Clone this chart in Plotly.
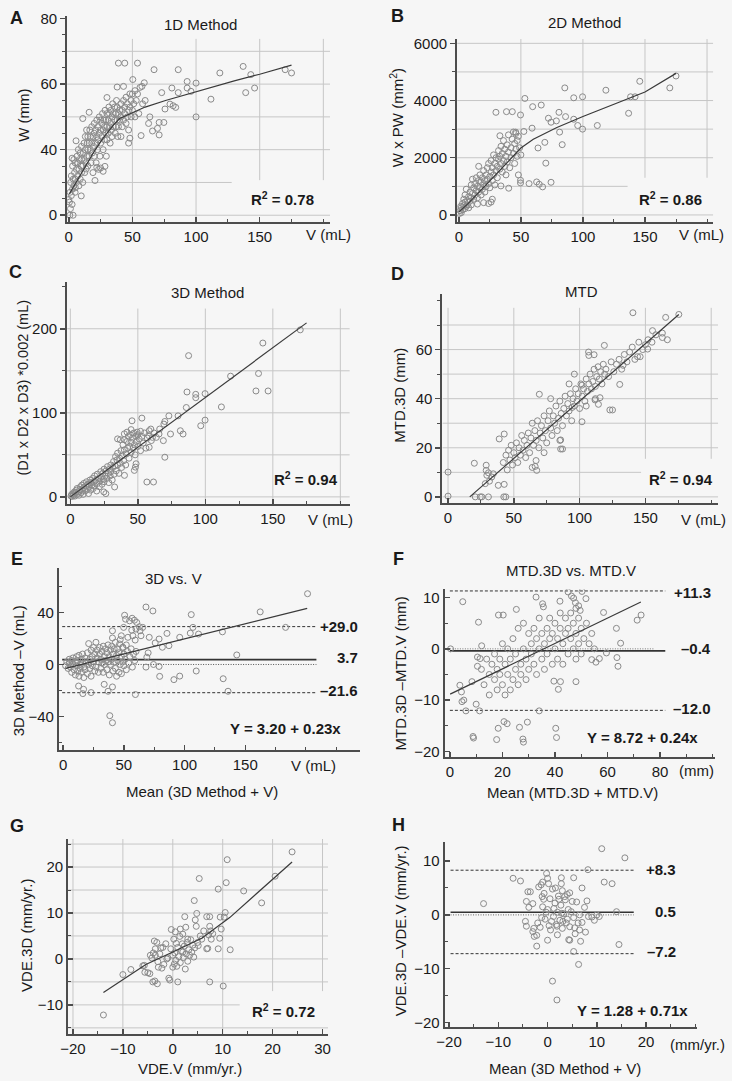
import plotly.graph_objects as go

FW, FH = 732, 1081
FONT = "Liberation Sans, Arial, Helvetica, sans-serif"
AX = "#4d4d4d"
GRID = "#c6c6c6"
MK = "#8a8a8a"
FIT = "#3a3a3a"
TXT = "#1a1a1a"

# ---------------- data ----------------
# Panel A: V (mL) vs W (mm); the W axis is drawn from 20 (labelled "0")
a_points = [
    (39, 66.4), (44, 66.4), (54, 66.4), (67, 64.4), (86, 64.4), (137, 65.4), (118.7, 63.4), (143, 62.9),
    (170, 64.4), (175, 63.4), (93, 60.8), (100, 60.3), (93, 58.8), (96, 57.8), (81, 58.8), (73, 57.4),
    (86, 57.4), (139, 57.4), (146, 58.8), (111.7, 55.4), (79.5, 53.9), (82, 53.4), (84, 52.9), (75.6, 52.4),
    (100, 50), (71, 48.3), (74.7, 48.3), (69.7, 46.5), (71, 44.5), (65.8, 45.7), (62.7, 48), (63.7, 50),
    (56.8, 44.3), (59.3, 60.4), (57.5, 59.3), (50.3, 61.4), (38, 59.1), (43, 59.3), (30, 55.9), (16, 51.4),
    (11, 49.5), (47, 42), (48, 43.5), (41, 44), (20.6, 30.6), (13.7, 34.1), (9.8, 25.9), (5.7, 42.7),
    (2.6, 37.4), (0.8, 20), (3.4, 20), (1.3, 22), (2.6, 23.3), (0, 24.8), (5.2, 28.4), (22, 34.6),
    (25, 34.4), (27, 33.4), (28.4, 34.9),
    (0.5, 24), (1, 27), (1.5, 30), (2, 26), (2, 32), (3, 28), (3, 35), (3.5, 31), (4, 29), (4, 37),
    (4.5, 33), (5, 27), (5, 31), (5, 36), (6, 30), (6, 34), (6.5, 38), (7, 32), (7, 36), (7.5, 40),
    (8, 29), (8, 34), (8.5, 37), (9, 31), (9, 39), (9.5, 35), (10, 33), (10, 41), (10, 37), (11, 30),
    (11, 35), (11.5, 39), (12, 42), (12, 37), (12.5, 33), (13, 44), (13, 40), (13.5, 36), (14, 38),
    (14, 46), (14.5, 42), (15, 35), (15, 40), (15, 44), (16, 38), (16, 42), (16.5, 46), (17, 40),
    (17, 44), (17.5, 36), (18, 42), (18, 47), (18.5, 39), (19, 44), (19, 33), (19.5, 41), (20, 45),
    (20, 38), (20, 48), (21, 42), (21, 46), (21.5, 36), (22, 44), (22, 49), (22.5, 40), (23, 47),
    (23, 43), (23.5, 34), (24, 45), (24, 50), (24.5, 38), (25, 46), (25, 42), (25, 49), (26, 44),
    (26, 48), (26.5, 51), (27, 40), (27, 46), (27.5, 49), (28, 43), (28, 47), (28.5, 52), (29, 45),
    (29, 49), (29.5, 38), (30, 47), (30, 51), (30, 43), (31, 49), (31, 45), (31.5, 53), (32, 47),
    (32, 51), (32.5, 42), (33, 48), (33, 52), (33.5, 46), (34, 50), (34, 44), (34.5, 54), (35, 47),
    (35, 51), (36, 49), (36, 53), (36.5, 45), (37, 51), (37, 47), (37.5, 55), (38, 49), (38, 53),
    (38.5, 44), (39, 51), (39, 47), (40, 52), (40, 49), (41, 54), (41, 50), (42, 47), (42, 52),
    (43, 55), (43, 49), (44, 51), (44, 53), (45, 48), (45, 56), (46, 50), (46, 54), (47, 52), (47, 46),
    (48, 57), (48, 53), (49, 50), (49, 55), (50, 52), (50, 57), (51, 54), (52, 58), (52, 50), (53, 55),
    (54, 57), (55, 51), (56, 59), (58, 54), (60, 55),
]
a_fit_v = [0.5, 10, 20, 27, 35, 40, 50, 60, 76, 100, 130, 150, 175]
a_fit_w = [26.5, 33, 39.5, 43.5, 47.5, 49.5, 51.3, 53, 55, 57.7, 61, 63, 65.8]

# Panel B: V (mL) vs W x PW (mm^2)
b_points = [
    (175, 4858), (170, 4442), (145.8, 4673), (138.4, 4131), (142, 4131), (136.8, 3554), (118.5, 4361),
    (111.6, 3127), (99.7, 4131), (92.6, 4096), (85.4, 4442), (86, 3438), (92.6, 3346), (95.8, 3127),
    (99.7, 3000), (80.7, 3588), (78.6, 3288), (81.2, 2896), (83.3, 2458), (72.2, 3381), (74.3, 3242),
    (66.4, 3842), (59.5, 3785), (53.2, 4073), (59, 3034), (69.3, 2538), (63.8, 2342), (70.1, 1811),
    (74.3, 1142), (67.5, 981), (64.8, 1073), (62.7, 1154), (56.6, 1096), (49.7, 1212), (49.7, 1119),
    (29.9, 3588), (38.4, 3611), (43.1, 3611), (49.7, 3496), (52.4, 2919), (45.8, 2896), (33.1, 2769),
    (40.2, 935), (33.9, 1015),
    (0.5, 50), (1, 150), (1.5, 300), (2, 80), (2, 250), (3, 400), (3, 180), (4, 320), (4, 550), (5, 220),
    (5, 450), (5, 700), (6, 300), (6, 900), (7, 500), (7, 350), (8, 650), (8, 250), (9, 800), (9, 480),
    (10, 600), (10, 1050), (10, 350), (11, 750), (11, 1250), (12, 550), (12, 950), (13, 1100), (13, 700),
    (14, 850), (14, 1300), (15, 600), (15, 1000), (16, 1200), (16, 800), (16, 1700), (17, 950),
    (17, 1400), (18, 700), (18, 1150), (19, 1300), (19, 900), (20, 1050), (20, 1550), (21, 1200),
    (21, 800), (22, 1400), (22, 1000), (23, 1650), (23, 1250), (24, 1100), (24, 1800), (25, 1350),
    (25, 950), (26, 1500), (26, 1900), (27, 1200), (27, 1650), (28, 2100), (28, 1400), (29, 1800),
    (29, 1050), (30, 1550), (30, 2000), (31, 1700), (31, 1300), (32, 1950), (32, 2250), (33, 1600),
    (33, 2050), (34, 1800), (34, 2400), (35, 1500), (35, 2150), (36, 1900), (36, 2600), (37, 1700),
    (37, 2300), (38, 2050), (38, 1400), (39, 2450), (39, 1850), (40, 2200), (40, 2800), (41, 1650),
    (42, 2350), (42, 2000), (43, 2650), (44, 2150), (44, 2900), (45, 1800), (45, 2500), (46, 2300),
    (46, 2850), (47, 2050), (47, 2600), (48, 1400), (48, 2750), (49, 2350), (50, 2100),
    (15, 380), (20, 430), (24, 400), (26, 450), (27, 550),
]
b_fit_v = [0, 7, 25, 40, 50, 60, 79, 100, 130, 150, 175]
b_fit_y = [100, 380, 1190, 1900, 2340, 2650, 3060, 3440, 3950, 4300, 4950]

# Panel C: V (mL) vs (D1 x D2 x D3)*0.002 (mL)
c_points = [
    (170.3, 198.7), (142.6, 183), (139.4, 146.8), (137.5, 126), (146.5, 126), (118.7, 143.6), (111.9, 107),
    (99.8, 122.8), (99.8, 91.3), (96.6, 84.6), (92.9, 122), (92.9, 118), (87.6, 168), (86.4, 124.8),
    (85.9, 106.3), (81.5, 78.7), (83.5, 74.8), (79.8, 96.4), (73, 96.4), (70, 89.7), (69.3, 86.6),
    (74.2, 74.8), (68.9, 66.9), (70, 47.2), (61.6, 17.7), (56.7, 17.7), (53, 93.7), (45.7, 90.5),
    (58.4, 78.7), (59.6, 80.7), (66.2, 80.7), (65.7, 74.8), (63.7, 70.8), (60.8, 70.8), (58.4, 59),
    (32.8, 11.8), (26.3, 3.9), (24.8, 5.9), (47.4, 31.5), (48.2, 35.4), (48.7, 39.4), (40.1, 25.6),
    (0.5, 1), (1, 3), (1.5, 0.5), (2, 4), (2.5, 2), (3, 6), (3.5, 1), (4, 5), (4.5, 8), (5, 3), (5, 10),
    (6, 6), (6.5, 2), (7, 9), (7.5, 12), (8, 5), (8.5, 14), (9, 8), (9.5, 3), (10, 11), (10, 16), (11, 7),
    (11.5, 13), (12, 18), (12.5, 9), (13, 15), (13.5, 4), (14, 12), (14.5, 20), (15, 17), (15, 8),
    (16, 14), (16.5, 22), (17, 10), (17.5, 18), (18, 25), (18, 13), (19, 20), (19.5, 7), (20, 16),
    (20, 27), (21, 22), (21.5, 12), (22, 19), (22.5, 30), (23, 24), (23.5, 15), (24, 28), (24.5, 21),
    (25, 33), (25, 18), (26, 25), (26.5, 31), (27, 22), (27.5, 36), (28, 28), (28.5, 17), (29, 33),
    (29.5, 25), (30, 38), (30, 30), (31, 20), (31.5, 35), (32, 42), (32.5, 27), (33, 37), (33.5, 48),
    (34, 31), (34.5, 44), (35, 38), (35, 52), (36, 28), (36.5, 46), (37, 40), (37.5, 55), (38, 35),
    (38.5, 49), (39, 62), (39.5, 43), (40, 56), (40, 68), (41, 38), (41.5, 51), (42, 66), (42.5, 58),
    (43, 72), (43.5, 46), (44, 60), (44.5, 74), (45, 53), (45, 65), (46, 70), (46.5, 58), (47, 76),
    (47.5, 62), (48, 50), (48.5, 72), (49, 66), (49.5, 77), (50, 60), (50, 74), (51, 69), (52, 78),
    (52, 55), (53, 72), (54, 64), (55, 76), (56, 58), (57, 70), (58, 73), (60, 67), (62, 76),
    (37, 68), (35, 69), (40, 75), (42, 77), (45, 80),
]
c_fit_v = [0, 175]
c_fit_y = [0, 207]

# Panel D: V (mL) vs MTD.3D (mm)
d_points = [
    (0, 10.1), (0, 0.3), (20, 13.7), (20.7, 0), (24.5, 0), (25.7, 0), (30.7, 0), (42.4, 0), (43.9, 0),
    (38.9, 23.6), (42.7, 25.6), (38.2, 4.7), (42.7, 5.1), (29, 12.9), (29, 10.8), (30.7, 9.8), (33.2, 8.1),
    (34.4, 9.4), (29.5, 8.8), (28.3, 5.4), (31.5, 6.4), (69.4, 41.8), (67.4, 10.8), (66.2, 12.4),
    (66.9, 14.8), (85.6, 19.5), (87, 19.5), (85.6, 23.2), (101.8, 30.6), (94.3, 36.4), (118.8, 61.7),
    (123, 35.4), (125, 35.4), (130.5, 45.8), (140.5, 75), (151.7, 60.2), (165.4, 73.1), (155.4, 67.7),
    (162.9, 64.9), (166.7, 64), (162.9, 66.7), (175.4, 74.3), (144, 57.1), (146, 57.1), (133, 53.6),
    (114.3, 37.7), (111.7, 39.5), (115.5, 40.4), (101.8, 45.5), (107, 57.6), (111, 57.9), (106.8, 59),
    (42, 14), (44, 17), (45, 11), (46, 19), (47, 15), (48, 21), (49, 13), (50, 18), (51, 16), (52, 22),
    (53, 14), (54, 20), (55, 17), (56, 25), (57, 19), (58, 23), (59, 16), (60, 21), (61, 26), (62, 18),
    (63, 24), (64, 30), (65, 21), (66, 27), (67, 23), (68, 31), (69, 20), (70, 26), (71, 29), (72, 24),
    (73, 33), (74, 27), (75, 22), (76, 31), (77, 35), (78, 28), (79, 25), (80, 33), (81, 30), (82, 37),
    (83, 27), (84, 32), (85, 39), (86, 34), (87, 29), (88, 36), (89, 41), (90, 33), (91, 38), (92, 35),
    (93, 42), (94, 31), (95, 40), (96, 37), (97, 44), (98, 39), (99, 42), (100, 36), (101, 46), (102, 41),
    (103, 44), (104, 39), (105, 48), (106, 43), (107, 46), (108, 50), (109, 44), (110, 47), (111, 52),
    (112, 45), (113, 49), (114, 53), (115, 48), (116, 51), (117, 46), (118, 54), (119, 50), (120, 52),
    (122, 49), (124, 55), (126, 51), (128, 54), (130, 56), (132, 52), (134, 58), (136, 55), (138, 59),
    (140, 61), (142, 56), (145, 63), (148, 60), (150, 62), (152, 64), (155, 63), (158, 66), (78, 40),
    (92, 46), (96, 50), (85, 23), (73, 18), (64, 12), (105, 37), (112, 40),
]
d_fit_v = [16.5, 175.4]
d_fit_y = [0, 74.3]

# Panel E: mean (3D Method + V) vs 3D Method - V (mL)
e_points = [
    (201.3, 54.2), (162.3, 40.3), (183.2, 28.4), (105.5, 38.2), (68.2, 44), (73.9, 41), (106.9, 28.4),
    (104.7, 24), (111.5, 23.3), (131.2, 25), (96, 20.8), (85.5, 23.8), (87.1, 14.4), (81.7, 13.2),
    (79, 19.5), (75.8, 16.5), (70.9, 20.8), (70, 8.9), (68.9, 5.6), (143, 7.3), (109.6, -5), (96, -8.9),
    (91.2, -11.6), (79.5, -9.1), (79, -1.5), (74.4, 0), (68.2, -2), (131.8, -10.9), (135.8, -20.5),
    (59.5, -23), (38.4, -39.2), (40.6, -44.6), (40.6, -17.2), (37, -20.5), (33.8, -15.2), (23, -21.5),
    (16.2, -22.3), (12.7, -16.5), (16.8, -19), (50.6, 37.7), (51.4, 34.7), (54.7, 33.4), (56.8, 35.4),
    (58.7, 33.9), (60.6, 32.2), (62.8, 28.9), (56.5, 26.3), (60, 27.1), (63.3, 25.8), (65.5, 28.4),
    (64.1, 22), (57.4, 22), (59.3, 18.7), (53.3, 20.8), (49.8, 28.4), (47.9, 22), (40.6, 25.8),
    (40.6, 20.3), (46.5, 15.7), (49.2, 13.2),
    (2, -1), (3, 2), (4, -3), (5, 1), (5, 4), (6, -2), (7, 3), (7, -6), (8, 0), (8, 5), (9, -4), (10, 2),
    (10, -8), (11, 6), (11, -1), (12, -5), (12, 3), (13, -9), (13, 7), (14, 0), (14, -3), (15, 4),
    (15, -6), (16, 1), (16, 8), (17, -2), (17, -10), (18, 5), (18, -4), (19, 2), (20, 9), (20, -7),
    (21, 0), (21, 16), (22, 4), (22, -3), (23, 11), (23, -9), (24, 6), (24, -1), (25, 13), (25, 2),
    (26, -5), (26, 8), (27, 17), (27, -2), (28, 5), (28, 11), (29, -6), (29, 2), (30, 8), (30, 13),
    (31, -3), (31, 4), (32, 10), (32, 1), (33, 14), (33, -6), (34, 6), (34, 0), (35, 12), (35, 3),
    (36, -4), (36, 9), (37, 15), (37, 2), (38, -8), (38, 6), (39, 11), (39, 0), (40, 4), (40, 14),
    (41, -5), (41, 8), (42, 2), (42, 12), (43, -3), (43, 17), (44, 7), (44, -9), (45, 3), (45, 12),
    (46, -6), (46, 9), (47, 0), (47, 19), (48, 6), (48, -7), (49, 13), (49, 2), (50, 8), (50, -1),
    (51, 4), (52, 15), (52, -4), (53, 10), (54, 1), (55, 6), (56, 12), (57, -2), (58, 8), (59, 3), (60, 10),
]
e_fit_x = [2, 201]
e_fit_y = [-3, 43]
e_upper, e_mean, e_lower = 29.0, 3.7, -21.6

# Panel F: mean (MTD.3D + MTD.V) vs MTD.3D - MTD.V (mm)
f_points = [
    (0.25, 0), (4.9, 9.2), (10.9, 5.2), (18.5, 6.6), (20.3, 6.6), (25.3, 7.7), (32.8, 10.1), (35.3, 8.8),
    (35.6, 8.2), (41.9, 9.3), (45, 11.1), (46.3, 10.3), (47.1, 9.9), (47.8, 9), (49, 8.4), (48, 7.9),
    (49.6, 7.5), (50.3, 11.2), (51.8, 9.8), (58.5, 7.1), (63.4, 4), (71.3, 5.6), (72.8, 6.6), (65, 1.1),
    (63.6, -1.7), (64, -3.4), (59.6, -0.8), (56.9, -1.9), (55.6, -2.6), (54, -2.1), (3.8, -7.1),
    (4.4, -8.4), (5.3, -10), (4.6, -10.3), (6.1, -12.1), (8.8, -17.1), (9, -17.4), (10, -10.8),
    (11.3, -12.1), (8.4, -6.4), (18.4, -15.5), (17.8, -17.7), (20.6, -14.2), (21.8, -14.6), (26.5, -15.3),
    (27.8, -17.6), (28, -18.2), (29.5, -14.3), (34, -12.1), (40.3, -15.5), (40.6, -17.3), (39.6, -6.3),
    (42.1, -6.4), (41.3, -7.9), (48, -6.4), (11.5, -1.9), (10.5, -1.6), (10.5, -3.4), (12.1, 0.6),
    (12, -4), (13, -7), (14, -2), (15, -5), (15, -9), (16, -3), (17, -6), (17, -1), (18, -4), (18, -8),
    (19, -2), (19, -5), (20, -7), (20, 1), (21, -3), (21, -9), (22, -5), (22, 0), (23, -2), (23, -8),
    (24, -6), (24, 2), (25, -4), (25, -1), (26, -7), (26, 4), (27, -3), (27, -5), (28, 0), (28, 5),
    (29, -2), (29, -6), (30, 3), (30, -4), (31, 1), (31, -1), (32, -3), (32, 4), (33, -5), (33, 2),
    (34, 0), (34, 6), (35, -2), (35, 3), (36, 1), (36, -4), (37, 4), (37, -1), (38, 2), (38, 6), (39, -3),
    (39, 3), (40, 0), (40, 5), (41, 2), (41, -2), (42, 4), (42, 7), (43, 1), (43, -3), (44, 3), (44, 6),
    (45, -1), (45, 4), (46, 2), (46, 7), (47, 0), (47, 5), (48, 3), (48, -2), (49, 6), (49, 1), (50, 4),
    (50, -1), (51, 2), (52, 5), (53, 1), (54, 3), (55, 0),
]
f_fit_x = [0.1, 72.7]
f_fit_y = [-8.84, 9.15]
f_upper, f_mean, f_lower = 11.3, -0.4, -12.0

# Panel G: VDE.V vs VDE.3D (mm/yr.)
g_points = [
    (-13.9, -12.2), (-10, -3.4), (-8.4, -2.3), (-5.7, -1.4), (-5.6, -2.9), (-4.6, -3.2), (-3.6, -4.8),
    (-3.1, -5.4), (-4.2, 0.2), (-3.9, 1.3), (-3.7, 3.9), (-3.2, 3.6), (-3.5, 2.2), (-3, -0.6), (-2.6, 1.1),
    (-2.4, 2.4), (-2.2, -2), (-2.9, -1.8), (-1.8, -1.2), (-1.4, 3.3), (-1.2, 0), (-0.8, -4.2), (-0.6, -4.6),
    (-0.4, 2.2), (-0.3, 6.4), (0, -1.8), (0.2, 4.3), (0.3, -1.1), (0.4, 1.3), (0.5, 5.9), (0.6, -0.3),
    (0.7, 3.4), (0.8, -1.6), (1, -5), (1, 2.5), (1.2, 0.5), (1.4, 4.9), (1.5, -0.8), (1.7, 1.8), (1.9, 3.3),
    (2, 5.4), (2.1, 0.3), (2.3, 2.8), (2.4, 9.2), (2.5, -2.2), (2.6, 6.9), (2.7, 1.1), (2.9, 3.6), (3, 4.3),
    (3.2, 2), (3.4, 0.8), (3.6, 4.2), (3.8, 1.5), (4, 3), (4.2, 0.4), (4.3, 12.7), (4.4, 2.4), (4.5, 8.5),
    (4.7, 7.1), (4.8, 9.9), (5, 3.6), (5.1, 2.9), (5.3, 17.5), (5.5, 5), (5.8, 4.3), (6.2, 6.1), (6.8, 9.2),
    (6.8, 2.2), (7, 2.3), (7.2, 5.2), (7.4, 9.2), (7.4, 7.1), (7.4, -5), (7.6, 6.1), (7.7, 4.3), (8, 5.5),
    (9.1, 15.2), (9.1, 2.2), (9.4, 4.5), (9.5, 9.1), (9.7, 6.5), (10.1, -5.9), (10.3, 9.1), (10.5, 10.1),
    (10.7, 16.6), (10.9, 21.6), (11.5, 2), (14.2, 14.8), (17.8, 12.2), (20.5, 18), (23.9, 23.3), (-5, -3),
    (-4, -5), (-4.5, 0.8), (-6, -1.5), (-2, 2.5), (1.5, 6.5), (3, -0.5), (0, 0.8), (-1, 0.2), (2, 1.5),
    (-3.5, 0.8),
]
g_fit_x = [-13.9, -5.4, 0, 5.8, 11.4, 23.9]
g_fit_y = [-7.3, -1.2, 1.5, 4.5, 9.0, 21.1]

# Panel H: mean (3D Method + V) vs VDE.3D - VDE.V (mm/yr.)
h_points = [
    (-13, 2.1), (-7, 6.8), (-5.5, 6.3), (11, 12.3), (15.7, 10.6), (11.5, 6.1), (13.1, 5.8), (8.2, 8.4),
    (14.5, -5.5), (14, 0.6), (-0.2, 7.7), (0, 6.8), (2.8, 6.9), (2.8, 5.8), (5.3, 6.9), (7, 5),
    (-2.2, -5.8), (0, -4.7), (2, -3.7), (4.3, -4.6), (4.5, -4.7), (5.3, -6.8), (6.7, -4.9), (7.7, -3.2),
    (6.3, -9.2), (1, -12.3), (1.9, -15.8), (-4.5, -1.2), (-4.3, -2.1), (-3, -3.1), (-2.7, -4), (-2.2, -3.8),
    (-4, 4.3), (-3.5, 4.3), (-4.3, 2.5), (-3.8, 1.4), (-3, 2.1), (-1.8, 5.2), (-1.3, 5.6), (-1, 6.1),
    (-0.7, 4), (-1.1, 3.4),
    (-1, 1.5), (-0.5, -0.8), (0, 1), (0.3, -2), (0.5, 3), (0.8, -1.2), (1, 4.8), (1.2, -0.3), (1.5, 2.2),
    (1.8, -1.8), (2, 0.5), (2.2, 3.5), (2.5, -1), (2.7, 1.8), (3, -2.5), (3, 4.5), (3.3, 0.2), (3.6, 2.8),
    (3.8, -1.5), (4, 3.8), (4.2, 1), (4.5, -2.2), (4.8, 0.6), (5, 2.5), (5.3, -0.5), (5.6, -3.5),
    (5.9, 2.4), (6.2, -1.5), (6.5, 0), (7, -1.4), (7.5, 1.4), (8, 2.6), (8.3, -0.3), (9, -0.4), (9.5, -1),
    (10, 0), (10.5, -0.3), (-1.5, -2.3), (-2, -1.5), (-0.8, 2.9), (0.2, 5.8), (1.6, 5), (2.3, 2.9),
    (3.5, 3.4), (4.5, 4.1), (-2.8, -2.5), (-1.2, -0.5), (0.6, -2.8), (1.9, -2.1), (3.1, -1.2), (4, -0.8),
    (2.9, 0.3), (1.3, 1.2), (-0.3, 0.5), (5.5, -2.4), (6.5, -2.8),
]
h_upper, h_mean, h_lower = 8.3, 0.5, -7.2

# ---------------- layout helpers ----------------
fig = go.Figure()
shapes = []
annotations = []


def ref(i):
    return ("x", "y") if i == 1 else (f"x{i}", f"y{i}")


def px_x(x):
    return x / FW


def px_y(y):
    return 1 - y / FH


def setup_axes(i, box, xr, yr, xtv, xtt, xminor, ytv, ytt, yminor, yticks="outside"):
    left, right, top, bottom = box
    xr_, yr_ = ref(i)
    common = dict(showline=True, linecolor=AX, linewidth=2, showgrid=False, zeroline=False,
                  tickmode="array", ticklen=5, tickwidth=1.5, tickcolor=AX, fixedrange=True,
                  tickfont=dict(size=15, color=TXT, family=FONT))
    xa = dict(common, domain=[px_x(left), px_x(right)], range=list(xr), anchor=yr_,
              tickvals=xtv, ticktext=xtt, ticks="inside",
              minor=dict(tickmode="linear", tick0=0, dtick=xminor, ticks="inside", ticklen=3,
                         tickcolor=AX, tickwidth=1, showgrid=False))
    ya = dict(common, domain=[px_y(bottom), px_y(top)], range=list(yr), anchor=xr_,
              tickvals=ytv, ticktext=ytt, ticks=yticks,
              minor=dict(tickmode="linear", tick0=0, dtick=yminor, ticks=yticks, ticklen=3,
                         tickcolor=AX, tickwidth=1, showgrid=False))
    kx = "xaxis" if i == 1 else f"xaxis{i}"
    ky = "yaxis" if i == 1 else f"yaxis{i}"
    fig.update_layout(**{kx: xa, ky: ya})


def hline(i, y, x0, x1, color=GRID, width=1, dash="solid"):
    xr_, yr_ = ref(i)
    shapes.append(dict(type="line", xref=xr_, yref=yr_, x0=x0, x1=x1, y0=y, y1=y,
                       line=dict(color=color, width=width, dash=dash), layer="below"))


def vline(i, x, y0, y1, color=GRID, width=1):
    xr_, yr_ = ref(i)
    shapes.append(dict(type="line", xref=xr_, yref=yr_, x0=x, x1=x, y0=y0, y1=y1,
                       line=dict(color=color, width=width), layer="below"))


def ann(text, x, y, size=15, bold=False, xanchor="center", angle=0, color=TXT):
    if bold:
        text = f"<b>{text}</b>"
    annotations.append(dict(text=text, x=px_x(x), y=px_y(y), xref="paper", yref="paper",
                            xanchor=xanchor, yanchor="middle", showarrow=False, textangle=angle,
                            borderpad=0, font=dict(size=size, color=color, family=FONT)))


def scatter(i, pts):
    xr_, yr_ = ref(i)
    fig.add_trace(go.Scatter(x=[p[0] for p in pts], y=[p[1] for p in pts], mode="markers",
                             xaxis=xr_, yaxis=yr_, hoverinfo="skip",
                             marker=dict(symbol="circle-open", size=6, color=MK,
                                         line=dict(width=1, color=MK))))


def fitline(i, xs, ys, width=1.2):
    xr_, yr_ = ref(i)
    fig.add_trace(go.Scatter(x=xs, y=ys, mode="lines", xaxis=xr_, yaxis=yr_, hoverinfo="skip",
                             line=dict(color=FIT, width=width)))


DASH = "3px,2px"
DOT = "1px,1.5px"
V_TICKS = [0, 50, 100, 150]
V_TEXT = ["0", "50", "100", "150"]

# ---------------- Panel A ----------------
setup_axes(1, (60, 327, 10, 218), (-1.32, 205.3), (17.88, 80.8),
           V_TICKS, V_TEXT, 25, [20, 40, 60, 80], ["0", "40", "60", "80"], 5)
for y in [20, 40, 50, 60, 70]:
    hline(1, y, -1.32, 205.3)
hline(1, 30, -1.32, 128)
for x in [50, 100]:
    vline(1, x, 17.88, 73.8)
for x in [150, 200]:
    vline(1, x, 30.7, 73.8)
scatter(1, a_points)
fitline(1, a_fit_v, a_fit_w)
ann("A", 9, 12, 18, True)
ann("1D Method", 195, 19)
ann("W (mm)", 15, 110, angle=-90)
ann("V (mL)", 325, 230)
ann("R<sup>2</sup> = 0.78", 279, 194, 15, True)

# ---------------- Panel B ----------------
setup_axes(2, (456, 716, 33, 218), (-1.35, 205), (-253, 6161),
           V_TICKS, V_TEXT, 25, [0, 2000, 4000, 6000], ["0", "2000", "4000", "6000"], 1000)
for y in [0, 2000, 3000, 4000, 5000, 6000]:
    hline(2, y, -1.35, 205)
hline(2, 1000, -1.35, 136)
for x in [50, 100]:
    vline(2, x, -253, 6150)
for x in [150, 200]:
    vline(2, x, 1300, 6150)
scatter(2, b_points)
fitline(2, b_fit_v, b_fit_y)
ann("B", 395, 10, 18, True)
ann("2D Method", 585, 17)
ann("W x PW (mm<sup>2</sup>)", 394, 113, angle=-90)
ann("V (mL)", 704, 230)
ann("R<sup>2</sup> = 0.86", 673, 194, 15, True)

# ---------------- Panel C ----------------
setup_axes(3, (60, 347, 278, 501.7), (-2.4, 207), (-7.9, 256),
           V_TICKS, V_TEXT, 25, [0, 100, 200], ["0", "100", "200"], 50)
for y in [0, 50, 100, 150, 200]:
    hline(3, y, -2.4, 207)
for x in [0, 50, 100, 150, 200]:
    vline(3, x, -7.9, 224)
scatter(3, c_points)
fitline(3, c_fit_v, c_fit_y)
ann("C", 8, 268, 18, True)
ann("3D Method", 203, 289)
ann("(D1 x D2 x D3) *0.002 (mL)", 15, 385, 14.5, angle=-90)
ann("V (mL)", 327, 518)
ann("R<sup>2</sup> = 0.94", 303, 476, 15, True)

# ---------------- Panel D ----------------
setup_axes(4, (441, 721, 290, 500.7), (-4.3, 205.3), (-2.3, 82.8),
           V_TICKS, V_TEXT, 25, [0, 20, 40, 60], ["0", "20", "40", "60"], 10)
for y in [0, 20, 30, 40, 50, 60, 70]:
    hline(4, y, -4.3, 205.3)
hline(4, 10, -4.3, 146.7)
for x in [0, 50, 100]:
    vline(4, x, -2.3, 77)
for x in [150, 200]:
    vline(4, x, 15.5, 77)
scatter(4, d_points)
fitline(4, d_fit_v, d_fit_y)
ann("D", 395, 270, 18, True)
ann("MTD", 582, 288)
ann("MTD.3D (mm)", 398, 393, angle=-90)
ann("V (mL)", 706, 518)
ann("R<sup>2</sup> = 0.94", 683, 476, 15, True)

# ---------------- Panel E ----------------
setup_axes(5, (51.7, 357, 566.7, 750), (-3.5, 244.2), (-65.3, 73.9),
           V_TICKS, V_TEXT, 25, [-40, 0, 40], ["\u221240", "0", "40"], 20, yticks="inside")
hline(5, e_upper, -0.8, 208.6, color="#333333", width=1, dash=DASH)
hline(5, 0, 2, 208.6, color="#555555", width=1, dash=DOT)
hline(5, e_mean, -0.8, 208.6, color="#333333", width=1.6)
hline(5, e_lower, -0.8, 208.6, color="#333333", width=1, dash=DASH)
scatter(5, e_points)
fitline(5, e_fit_x, e_fit_y)
ann("E", 9, 558, 18, True)
ann("3D vs. V", 168, 577)
ann("3D Method \u2013V (mL)", 11, 670, angle=-90)
ann("V (mL)", 310, 766)
ann("Mean (3D Method + V)", 197, 792)
ann("+29.0", 356, 626, 15, True, xanchor="right")
ann("3.7", 356, 657, 15, True, xanchor="right")
ann("\u201321.6", 356, 690, 15, True, xanchor="right")
ann("Y = 3.20 + 0.23x", 282, 729, 15, True)

# ---------------- Panel F ----------------
setup_axes(6, (443.3, 717.7, 588.3, 757.3), (-2.0, 100.9), (-21.1, 11.6),
           [0, 20, 40, 60, 80], ["0", "20", "40", "60", "80"], 10,
           [-20, -10, 0, 10], ["\u221220", "\u221210", "0", "10"], 5, yticks="inside")
hline(6, f_upper, 0, 82, color="#333333", width=1, dash=DASH)
hline(6, 0, 0, 78, color="#777777", width=1, dash=DOT)
hline(6, f_mean, 0, 82, color="#333333", width=1.6)
hline(6, f_lower, 0, 82, color="#333333", width=1, dash=DASH)
scatter(6, f_points)
fitline(6, f_fit_x, f_fit_y)
ann("F", 396, 558, 18, True)
ann("MTD.3D vs. MTD.V", 572, 569)
ann("MTD.3D \u2013MTD.V (mm)", 398, 673, angle=-90)
ann("(mm)", 699, 771)
ann("Mean (MTD.3D + MTD.V)", 573, 793)
ann("+11.3", 715, 591, 15, True, xanchor="right")
ann("\u20130.4", 715, 648, 15, True, xanchor="right")
ann("\u201312.0", 715, 708, 15, True, xanchor="right")
ann("Y = 8.72 + 0.24x", 644, 738, 15, True)

# ---------------- Panel G ----------------
setup_axes(7, (61, 325, 840, 1036.7), (-20.98, 31.12), (-16.35, 26.1),
           [-20, -10, 0, 10, 20, 30], ["\u221220", "\u221210", "0", "10", "20", "30"], 5,
           [-10, 0, 10, 20], ["\u221210", "0", "10", "20"], 5, yticks="inside")
for y in [-15, -5, 0, 5, 10, 15, 20, 25]:
    hline(7, y, -20.98, 31.12)
hline(7, -10, -20.98, 13.4)
for x in [-20, -10, 0, 10]:
    vline(7, x, -16.35, 26.1)
for x in [20, 30]:
    vline(7, x, -7, 26.1)
scatter(7, g_points)
fitline(7, g_fit_x, g_fit_y)
ann("G", 9, 827, 18, True)
ann("VDE.3D (mm/yr.)", 18, 937, angle=-90)
ann("VDE.V (mm/yr.)", 185, 1071)
ann("R<sup>2</sup> = 0.72", 280, 1013, 15, True)

# ---------------- Panel H ----------------
setup_axes(8, (443.3, 699.3, 842.7, 1030), (-20.9, 30.3), (-20.9, 13.6),
           [-20, -10, 0, 10, 20], ["\u221220", "\u221210", "0", "10", "20"], 5,
           [-20, -10, 0, 10], ["\u221220", "\u221210", "0", "10"], 5, yticks="inside")
hline(8, h_upper, -19.7, 17.5, color="#333333", width=1, dash=DASH)
hline(8, 0, -19.7, 17.5, color="#666666", width=1, dash=DOT)
hline(8, h_mean, -19.7, 17.5, color="#333333", width=1.6)
hline(8, h_lower, -19.7, 17.5, color="#333333", width=1, dash=DASH)
scatter(8, h_points)
ann("H", 396, 826, 18, True)
ann("VDE.3D \u2013VDE.V (mm/yr.)", 398, 933, angle=-90)
ann("(mm/yr.)", 729, 1047, xanchor="right")
ann("Mean (3D Method + V)", 566, 1071)
ann("+8.3", 679, 871, 15, True, xanchor="right")
ann("0.5", 679, 913, 15, True, xanchor="right")
ann("\u20137.2", 679, 953, 15, True, xanchor="right")
ann("Y = 1.28 + 0.71x", 634, 1013, 15, True)

fig.update_layout(
    width=FW, height=FH, margin=dict(l=0, r=0, t=0, b=0),
    paper_bgcolor="#f6f6f6", plot_bgcolor="rgba(0,0,0,0)",
    showlegend=False, shapes=shapes, annotations=annotations,
    font=dict(family=FONT, size=15, color=TXT),
)

fig.write_html(
    "out.html",
    config={"displayModeBar": False, "staticPlot": True},
    post_script="document.body.style.margin='0';document.body.style.overflow='hidden';"
                "document.body.style.background='#f6f6f6';",
)
